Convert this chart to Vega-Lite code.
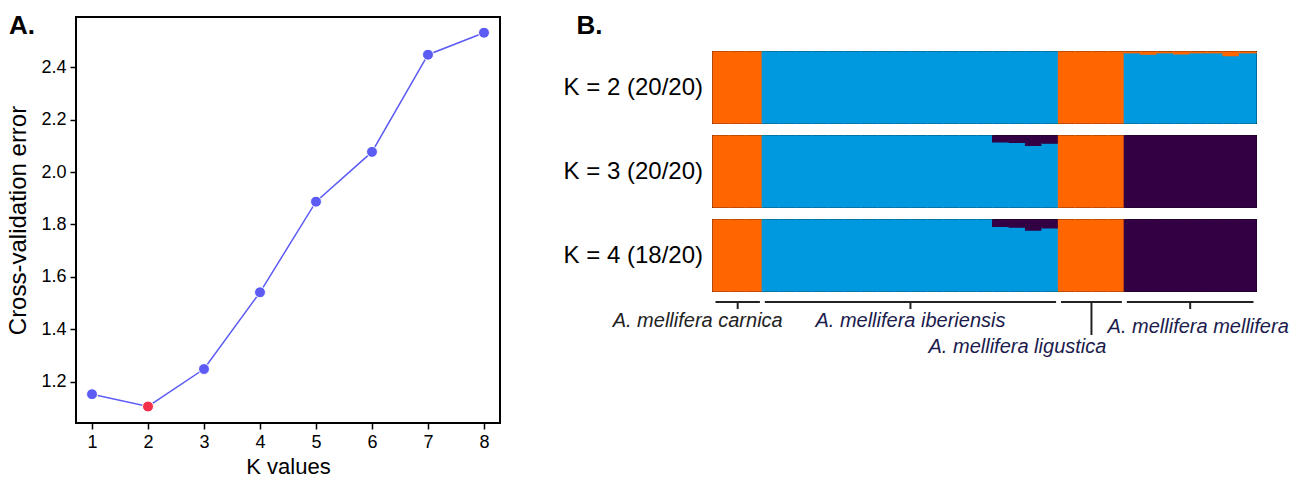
{
  "$schema": "https://vega.github.io/schema/vega-lite/v6.json",
  "padding": {"left": 5, "top": 12, "right": 0, "bottom": 0},
  "spacing": 62,
  "resolve": {"scale": {"color": "independent"}},
  "config": {
    "font": "Liberation Sans",
    "view": {"stroke": "black", "strokeWidth": 2},
    "axis": {"domain": false, "grid": false, "tickColor": "black", "tickWidth": 1.5, "tickSize": 6, "labelColor": "black", "labelFontSize": 18, "titleColor": "black", "titleFontSize": 23, "titleFontWeight": "normal", "labelPadding": 4},
    "title": {"color": "black"}
  },
  "hconcat": [
    {
      "width": 424,
      "height": 406,
      "title": {"text": "A.", "anchor": "start", "frame": "bounds", "fontSize": 26, "fontWeight": "bold", "offset": -22, "dx": 2},
      "data": {"values": [
        {"K": 1, "cv": 1.152, "best": "no"},
        {"K": 2, "cv": 1.105, "best": "yes"},
        {"K": 3, "cv": 1.248, "best": "no"},
        {"K": 4, "cv": 1.541, "best": "no"},
        {"K": 5, "cv": 1.887, "best": "no"},
        {"K": 6, "cv": 2.077, "best": "no"},
        {"K": 7, "cv": 2.448, "best": "no"},
        {"K": 8, "cv": 2.532, "best": "no"}
      ]},
      "encoding": {
        "x": {"field": "K", "type": "quantitative", "title": "K values", "scale": {"domain": [0.714, 8.286], "nice": false, "zero": false}, "axis": {"values": [1, 2, 3, 4, 5, 6, 7, 8], "titlePadding": 5, "titleFontSize": 22}},
        "y": {"field": "cv", "type": "quantitative", "title": "Cross-validation error", "scale": {"domain": [1.042, 2.592], "nice": false, "zero": false}, "axis": {"values": [1.2, 1.4, 1.6, 1.8, 2.0, 2.2, 2.4], "format": ".1f", "titlePadding": 10, "titleFontSize": 24}}
      },
      "layer": [
        {"mark": {"type": "line", "color": "#5c5cf5", "strokeWidth": 1.5}},
        {"mark": {"type": "point", "filled": true, "size": 120, "opacity": 1, "stroke": "white", "strokeWidth": 1},
         "encoding": {"color": {"field": "best", "type": "nominal", "scale": {"domain": ["no", "yes"], "range": ["#5c5cf5", "#f5304a"]}, "legend": null}}}
      ]
    },
    {
      "title": {"text": "B.", "anchor": "start", "frame": "bounds", "fontSize": 26, "fontWeight": "bold", "dx": 13, "offset": -22},
      "spacing": 0,
      "resolve": {"scale": {"color": "independent"}},
      "vconcat": [
        {
          "width": 543,
          "height": 33,
          "view": {"stroke": null},
          "data": {"values": [{}]},
          "mark": {"type": "rule", "opacity": 0},
          "encoding": {}
        },
        {
          "data": {"values": [
            {"K": "K = 2 (20/20)", "i": 1, "orange": 1}, {"K": "K = 2 (20/20)", "i": 2, "orange": 1}, {"K": "K = 2 (20/20)", "i": 3, "orange": 1},
            {"K": "K = 2 (20/20)", "i": 4, "blue": 1}, {"K": "K = 2 (20/20)", "i": 5, "blue": 1}, {"K": "K = 2 (20/20)", "i": 6, "blue": 1},
            {"K": "K = 2 (20/20)", "i": 7, "blue": 1}, {"K": "K = 2 (20/20)", "i": 8, "blue": 1}, {"K": "K = 2 (20/20)", "i": 9, "blue": 1},
            {"K": "K = 2 (20/20)", "i": 10, "blue": 1}, {"K": "K = 2 (20/20)", "i": 11, "blue": 1}, {"K": "K = 2 (20/20)", "i": 12, "blue": 1},
            {"K": "K = 2 (20/20)", "i": 13, "blue": 1}, {"K": "K = 2 (20/20)", "i": 14, "blue": 1}, {"K": "K = 2 (20/20)", "i": 15, "blue": 1},
            {"K": "K = 2 (20/20)", "i": 16, "blue": 1}, {"K": "K = 2 (20/20)", "i": 17, "blue": 1}, {"K": "K = 2 (20/20)", "i": 18, "blue": 1},
            {"K": "K = 2 (20/20)", "i": 19, "blue": 1}, {"K": "K = 2 (20/20)", "i": 20, "blue": 1}, {"K": "K = 2 (20/20)", "i": 21, "blue": 1},
            {"K": "K = 2 (20/20)", "i": 22, "orange": 1}, {"K": "K = 2 (20/20)", "i": 23, "orange": 1}, {"K": "K = 2 (20/20)", "i": 24, "orange": 1},
            {"K": "K = 2 (20/20)", "i": 25, "orange": 1},
            {"K": "K = 2 (20/20)", "i": 26, "blue": 0.99, "orange": 0.01}, {"K": "K = 2 (20/20)", "i": 27, "blue": 0.97, "orange": 0.03},
            {"K": "K = 2 (20/20)", "i": 28, "blue": 0.99, "orange": 0.01}, {"K": "K = 2 (20/20)", "i": 29, "blue": 0.975, "orange": 0.025},
            {"K": "K = 2 (20/20)", "i": 30, "blue": 0.99, "orange": 0.01}, {"K": "K = 2 (20/20)", "i": 31, "blue": 0.99, "orange": 0.01},
            {"K": "K = 2 (20/20)", "i": 32, "blue": 0.95, "orange": 0.05}, {"K": "K = 2 (20/20)", "i": 33, "blue": 0.99, "orange": 0.01},

            {"K": "K = 3 (20/20)", "i": 1, "orange": 1}, {"K": "K = 3 (20/20)", "i": 2, "orange": 1}, {"K": "K = 3 (20/20)", "i": 3, "orange": 1},
            {"K": "K = 3 (20/20)", "i": 4, "blue": 1}, {"K": "K = 3 (20/20)", "i": 5, "blue": 1}, {"K": "K = 3 (20/20)", "i": 6, "blue": 1},
            {"K": "K = 3 (20/20)", "i": 7, "blue": 1}, {"K": "K = 3 (20/20)", "i": 8, "blue": 1}, {"K": "K = 3 (20/20)", "i": 9, "blue": 1},
            {"K": "K = 3 (20/20)", "i": 10, "blue": 1}, {"K": "K = 3 (20/20)", "i": 11, "blue": 1}, {"K": "K = 3 (20/20)", "i": 12, "blue": 1},
            {"K": "K = 3 (20/20)", "i": 13, "blue": 1}, {"K": "K = 3 (20/20)", "i": 14, "blue": 1}, {"K": "K = 3 (20/20)", "i": 15, "blue": 1},
            {"K": "K = 3 (20/20)", "i": 16, "blue": 1}, {"K": "K = 3 (20/20)", "i": 17, "blue": 1},
            {"K": "K = 3 (20/20)", "i": 18, "blue": 0.92, "purple": 0.08}, {"K": "K = 3 (20/20)", "i": 19, "blue": 0.91, "purple": 0.09},
            {"K": "K = 3 (20/20)", "i": 20, "blue": 0.87, "purple": 0.13}, {"K": "K = 3 (20/20)", "i": 21, "blue": 0.9, "purple": 0.1},
            {"K": "K = 3 (20/20)", "i": 22, "orange": 1}, {"K": "K = 3 (20/20)", "i": 23, "orange": 1}, {"K": "K = 3 (20/20)", "i": 24, "orange": 1},
            {"K": "K = 3 (20/20)", "i": 25, "orange": 1},
            {"K": "K = 3 (20/20)", "i": 26, "purple": 1}, {"K": "K = 3 (20/20)", "i": 27, "purple": 1}, {"K": "K = 3 (20/20)", "i": 28, "purple": 1},
            {"K": "K = 3 (20/20)", "i": 29, "purple": 1}, {"K": "K = 3 (20/20)", "i": 30, "purple": 1}, {"K": "K = 3 (20/20)", "i": 31, "purple": 1},
            {"K": "K = 3 (20/20)", "i": 32, "purple": 1}, {"K": "K = 3 (20/20)", "i": 33, "purple": 1},

            {"K": "K = 4 (18/20)", "i": 1, "orange": 1}, {"K": "K = 4 (18/20)", "i": 2, "orange": 1}, {"K": "K = 4 (18/20)", "i": 3, "orange": 1},
            {"K": "K = 4 (18/20)", "i": 4, "blue": 1}, {"K": "K = 4 (18/20)", "i": 5, "blue": 1}, {"K": "K = 4 (18/20)", "i": 6, "blue": 1},
            {"K": "K = 4 (18/20)", "i": 7, "blue": 1}, {"K": "K = 4 (18/20)", "i": 8, "blue": 1}, {"K": "K = 4 (18/20)", "i": 9, "blue": 1},
            {"K": "K = 4 (18/20)", "i": 10, "blue": 1}, {"K": "K = 4 (18/20)", "i": 11, "blue": 1}, {"K": "K = 4 (18/20)", "i": 12, "blue": 1},
            {"K": "K = 4 (18/20)", "i": 13, "blue": 1}, {"K": "K = 4 (18/20)", "i": 14, "blue": 1}, {"K": "K = 4 (18/20)", "i": 15, "blue": 1},
            {"K": "K = 4 (18/20)", "i": 16, "blue": 1}, {"K": "K = 4 (18/20)", "i": 17, "blue": 1},
            {"K": "K = 4 (18/20)", "i": 18, "blue": 0.91, "purple": 0.09}, {"K": "K = 4 (18/20)", "i": 19, "blue": 0.9, "purple": 0.1},
            {"K": "K = 4 (18/20)", "i": 20, "blue": 0.86, "purple": 0.14}, {"K": "K = 4 (18/20)", "i": 21, "blue": 0.89, "purple": 0.11},
            {"K": "K = 4 (18/20)", "i": 22, "orange": 1}, {"K": "K = 4 (18/20)", "i": 23, "orange": 1}, {"K": "K = 4 (18/20)", "i": 24, "orange": 1},
            {"K": "K = 4 (18/20)", "i": 25, "orange": 1},
            {"K": "K = 4 (18/20)", "i": 26, "purple": 1}, {"K": "K = 4 (18/20)", "i": 27, "purple": 1}, {"K": "K = 4 (18/20)", "i": 28, "purple": 1},
            {"K": "K = 4 (18/20)", "i": 29, "purple": 1}, {"K": "K = 4 (18/20)", "i": 30, "purple": 1}, {"K": "K = 4 (18/20)", "i": 31, "purple": 1},
            {"K": "K = 4 (18/20)", "i": 32, "purple": 1}, {"K": "K = 4 (18/20)", "i": 33, "purple": 1}
          ]},
          "transform": [
            {"fold": ["blue", "orange", "purple"], "as": ["cluster", "q"]},
            {"filter": "datum.q > 0"}
          ],
          "facet": {"row": {"field": "K", "type": "nominal", "title": null,
            "header": {"labelAngle": 0, "labelOrient": "left", "labelAlign": "left", "labelBaseline": "middle", "labelFontSize": 24, "labelColor": "black", "labelPadding": 8}}},
          "spacing": 9,
          "spec": {
            "width": 543,
            "height": 71,
            "mark": {"type": "bar", "strokeWidth": 1.4, "opacity": 1},
            "encoding": {
              "x": {"field": "i", "type": "ordinal", "scale": {"paddingInner": 0, "paddingOuter": 0}, "axis": null},
              "y": {"field": "q", "type": "quantitative", "stack": "zero", "scale": {"domain": [0, 1], "nice": false}, "axis": null},
              "color": {"field": "cluster", "type": "nominal", "scale": {"domain": ["blue", "orange", "purple"], "range": ["#0099e0", "#ff6600", "#330044"]}, "legend": null},
              "stroke": {"field": "cluster", "type": "nominal", "scale": {"domain": ["blue", "orange", "purple"], "range": ["#0099e0", "#ff6600", "#330044"]}, "legend": null},
              "order": {"field": "cluster", "type": "nominal", "sort": "ascending"}
            }
          }
        },
        {
          "width": 543,
          "height": 62,
          "view": {"stroke": null},
          "data": {"values": [
            {"pop": "A. mellifera carnica", "first": 1, "last": 3, "mid": 2},
            {"pop": "A. mellifera iberiensis", "first": 4, "last": 21, "mid": 12.5},
            {"pop": "A. mellifera ligustica", "first": 22, "last": 25, "mid": 23.5},
            {"pop": "A. mellifera mellifera", "first": 26, "last": 33, "mid": 29.5}
          ]},
          "resolve": {"scale": {"x": "independent"}},
          "layer": [
            {"mark": {"type": "rule", "strokeWidth": 2, "color": "#222222"},
             "encoding": {
               "x": {"field": "first", "type": "ordinal", "bandPosition": 0.15, "scale": {"domain": [1,2,3,4,5,6,7,8,9,10,11,12,13,14,15,16,17,18,19,20,21,22,23,24,25,26,27,28,29,30,31,32,33], "paddingInner": 0, "paddingOuter": 0}, "axis": null},
               "x2": {"field": "last", "bandPosition": 0.85},
               "y": {"datum": 9, "type": "quantitative", "scale": {"domain": [0, 62], "reverse": true, "nice": false, "zero": false}, "axis": null}
             }},
            {"transform": [{"filter": "datum.pop != 'A. mellifera ligustica'"}],
             "mark": {"type": "rule", "strokeWidth": 2, "color": "#222222"},
             "encoding": {
               "x": {"field": "mid", "type": "quantitative", "scale": {"domain": [0.5, 33.5], "nice": false, "zero": false}, "axis": null},
               "y": {"datum": 9, "type": "quantitative"},
               "y2": {"datum": 16}
             }},
            {"transform": [{"filter": "datum.pop == 'A. mellifera ligustica'"}],
             "mark": {"type": "rule", "strokeWidth": 2, "color": "#222222"},
             "encoding": {
               "x": {"field": "mid", "type": "quantitative", "scale": {"domain": [0.5, 33.5], "nice": false, "zero": false}, "axis": null},
               "y": {"datum": 9, "type": "quantitative"},
               "y2": {"datum": 42}
             }},
            {"transform": [{"filter": "datum.pop == 'A. mellifera carnica'"}],
             "mark": {"type": "text", "fontSize": 20, "fontStyle": "italic", "color": "#222222", "baseline": "middle", "dx": -40},
             "encoding": {
               "x": {"field": "mid", "type": "quantitative", "scale": {"domain": [0.5, 33.5], "nice": false, "zero": false}, "axis": null},
               "y": {"datum": 28, "type": "quantitative"},
               "text": {"field": "pop"}
             }},
            {"transform": [{"filter": "datum.pop == 'A. mellifera iberiensis'"}],
             "mark": {"type": "text", "fontSize": 20, "fontStyle": "italic", "color": "#1b1b4d", "baseline": "middle", "dx": 0},
             "encoding": {
               "x": {"field": "mid", "type": "quantitative", "scale": {"domain": [0.5, 33.5], "nice": false, "zero": false}, "axis": null},
               "y": {"datum": 28, "type": "quantitative"},
               "text": {"field": "pop"}
             }},
            {"transform": [{"filter": "datum.pop == 'A. mellifera ligustica'"}],
             "mark": {"type": "text", "fontSize": 20, "fontStyle": "italic", "color": "#1b1b4d", "baseline": "middle", "dx": -74},
             "encoding": {
               "x": {"field": "mid", "type": "quantitative", "scale": {"domain": [0.5, 33.5], "nice": false, "zero": false}, "axis": null},
               "y": {"datum": 54, "type": "quantitative"},
               "text": {"field": "pop"}
             }},
            {"transform": [{"filter": "datum.pop == 'A. mellifera mellifera'"}],
             "mark": {"type": "text", "fontSize": 20, "fontStyle": "italic", "color": "#1b1b4d", "baseline": "middle", "dx": 8},
             "encoding": {
               "x": {"field": "mid", "type": "quantitative", "scale": {"domain": [0.5, 33.5], "nice": false, "zero": false}, "axis": null},
               "y": {"datum": 34, "type": "quantitative"},
               "text": {"field": "pop"}
             }}
          ]
        }
      ]
    }
  ]
}
